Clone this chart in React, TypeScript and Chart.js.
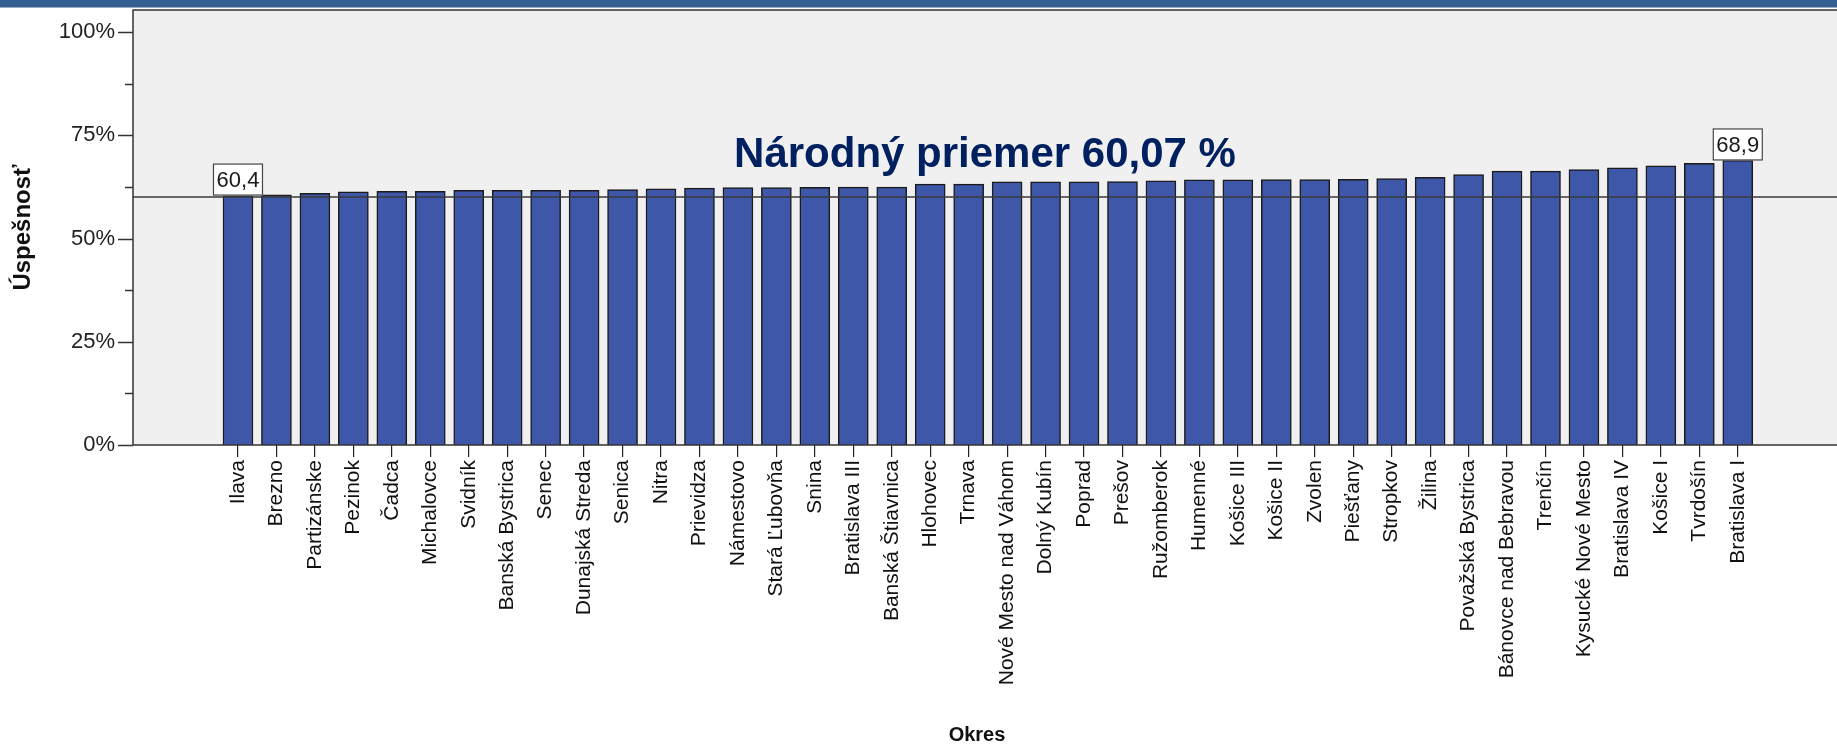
import React, { useEffect, useRef } from 'react';
import { Chart, registerables } from 'chart.js';

Chart.register(...registerables);

const districts = [
  'Ilava', 'Brezno', 'Partizánske', 'Pezinok', 'Čadca', 'Michalovce', 'Svidník',
  'Banská Bystrica', 'Senec', 'Dunajská Streda', 'Senica', 'Nitra', 'Prievidza',
  'Námestovo', 'Stará Ľubovňa', 'Snina', 'Bratislava III', 'Banská Štiavnica',
  'Hlohovec', 'Trnava', 'Nové Mesto nad Váhom', 'Dolný Kubín', 'Poprad', 'Prešov',
  'Ružomberok', 'Humenné', 'Košice III', 'Košice II', 'Zvolen', 'Piešťany',
  'Stropkov', 'Žilina', 'Považská Bystrica', 'Bánovce nad Bebravou', 'Trenčín',
  'Kysucké Nové Mesto', 'Bratislava IV', 'Košice I', 'Tvrdošín', 'Bratislava I',
];

const successRates = [
  60.4, 60.6, 60.95, 61.3, 61.45, 61.45, 61.65,
  61.65, 61.65, 61.65, 61.85, 62.0, 62.2,
  62.35, 62.35, 62.4, 62.45, 62.45,
  63.15, 63.15, 63.7, 63.7, 63.75, 63.8,
  63.95, 64.2, 64.2, 64.25, 64.25, 64.3,
  64.5, 64.8, 65.5, 66.3, 66.3,
  66.7, 67.1, 67.6, 68.2, 68.9,
];

const yMajorTicks = [0, 25, 50, 75, 100];
const yMinorTicks = [12.5, 37.5, 62.5, 87.5];
const nationalMean = 60.07;
const meanLabel = 'Národný priemer 60,07 %';
const yAxisTitle = 'Úspešnosť';
const xAxisTitle = 'Okres';

const FONT = "'Liberation Sans', Arial, sans-serif";
const BAR_COLOR = '#3e57a9';
const BAR_BORDER = '#1b1b1b';
const PANEL = '#f0f0f0';
const AXIS = '#333333';

const fmt = (v: number) => v.toFixed(1).replace('.', ',');

const decorPlugin = {
  id: 'decor',
  beforeDraw(chart: any) {
    const { ctx, chartArea: a, width, height } = chart;
    ctx.save();
    ctx.fillStyle = '#ffffff';
    ctx.fillRect(0, 0, width, height);
    ctx.fillStyle = '#365f91';
    ctx.fillRect(0, 0, width, 7.5);
    ctx.fillStyle = PANEL;
    ctx.fillRect(a.left, a.top, width - a.left, a.bottom - a.top);
    ctx.restore();
  },
  afterDatasetsDraw(chart: any) {
    const { ctx, chartArea: a, width } = chart;
    const yScale = chart.scales.y;
    ctx.save();
    const my = yScale.getPixelForValue(nationalMean);
    ctx.strokeStyle = '#3a3a3a';
    ctx.lineWidth = 1.5;
    ctx.beginPath();
    ctx.moveTo(a.left, my);
    ctx.lineTo(width, my);
    ctx.stroke();

    ctx.strokeStyle = AXIS;
    ctx.lineWidth = 1.5;
    ctx.beginPath();
    ctx.moveTo(width, a.top);
    ctx.lineTo(a.left, a.top);
    ctx.lineTo(a.left, a.bottom);
    ctx.lineTo(width, a.bottom);
    ctx.stroke();

    ctx.beginPath();
    yMajorTicks.forEach((v) => {
      const y = Math.round(yScale.getPixelForValue(v)) + 0.5;
      ctx.moveTo(a.left - 15, y);
      ctx.lineTo(a.left, y);
    });
    yMinorTicks.forEach((v) => {
      const y = Math.round(yScale.getPixelForValue(v)) + 0.5;
      ctx.moveTo(a.left - 8, y);
      ctx.lineTo(a.left, y);
    });
    ctx.stroke();

    const meta = chart.getDatasetMeta(0);
    const minIdx = successRates.indexOf(Math.min(...successRates));
    const maxIdx = successRates.indexOf(Math.max(...successRates));
    ctx.font = `22px ${FONT}`;
    ctx.textAlign = 'center';
    ctx.textBaseline = 'middle';
    [minIdx, maxIdx].forEach((i) => {
      const bar = meta.data[i];
      const txt = fmt(successRates[i]);
      const w = 50;
      const h = 32;
      const x0 = bar.x - w / 2;
      const y0 = bar.y - h;
      ctx.fillStyle = '#ffffff';
      ctx.fillRect(x0, y0, w, h);
      ctx.strokeStyle = '#444';
      ctx.lineWidth = 1.2;
      ctx.strokeRect(x0 + 0.5, y0 + 0.5, w - 1, h - 1);
      ctx.fillStyle = '#1a1a1a';
      ctx.fillText(txt, bar.x, y0 + h / 2 + 1);
    });

    ctx.font = `bold 42px ${FONT}`;
    ctx.fillStyle = '#002060';
    ctx.textAlign = 'center';
    ctx.textBaseline = 'alphabetic';
    ctx.fillText(meanLabel, (a.left + width) / 2, 167);

    ctx.font = `bold 20px ${FONT}`;
    ctx.fillStyle = '#111';
    ctx.textAlign = 'center';
    ctx.textBaseline = 'middle';
    ctx.fillText(xAxisTitle, (a.left + width) / 2 - 8, 735);
    ctx.restore();
  },
};

export default function App() {
  const ref = useRef<HTMLCanvasElement | null>(null);

  useEffect(() => {
    if (!ref.current) return;
    const chart = new Chart(ref.current, {
      type: 'bar',
      data: {
        datasets: [
          {
            data: successRates.map((v, i) => ({ x: i, y: v })),
            backgroundColor: BAR_COLOR,
            borderColor: BAR_BORDER,
            borderWidth: 1.5,
            barThickness: 30,
          },
        ],
      },
      options: {
        animation: false,
        responsive: false,
        devicePixelRatio: 1,
        layout: { padding: { top: 10, left: 0, right: 0, bottom: 0 } },
        plugins: {
          legend: { display: false },
          tooltip: { enabled: false },
        },
        scales: {
          x: {
            type: 'linear',
            offset: false,
            bounds: 'data',
            min: -2.73,
            max: 41.58,
            afterBuildTicks: (s: any) => {
              s.ticks = districts.map((_, i) => ({ value: i }));
            },
            afterFit: (s: any) => {
              s.height = 302;
              s.paddingLeft = 0;
              s.paddingRight = 0;
              s.paddingTop = 0;
              s.paddingBottom = 0;
            },
            ticks: {
              autoSkip: false,
              maxRotation: 90,
              minRotation: 90,
              padding: 3,
              color: '#111',
              font: { family: FONT, size: 21 },
              callback: (v: any) => districts[Math.round(Number(v))] ?? '',
            },
            grid: {
              display: true,
              offset: false,
              drawOnChartArea: false,
              drawTicks: true,
              tickLength: 12,
              color: '#222',
              lineWidth: 1.2,
            },
            border: { display: false },
            title: { display: false },
          },
          y: {
            min: 0,
            max: 105.33,
            afterBuildTicks: (s: any) => {
              s.ticks = yMajorTicks.map((v) => ({ value: v }));
            },
            afterFit: (s: any) => {
              s.width = 133;
              s.paddingLeft = 0;
              s.paddingRight = 0;
              s.paddingTop = 0;
              s.paddingBottom = 0;
            },
            ticks: {
              padding: 18,
              color: '#222',
              font: { family: FONT, size: 22 },
              callback: (v: any) => `${v}%`,
            },
            grid: { display: false, drawTicks: false },
            border: { display: false },
            title: {
              display: true,
              text: yAxisTitle,
              color: '#111',
              font: { family: FONT, size: 24, weight: 'bold' },
              padding: { top: 9, bottom: 0 },
            },
          },
        },
      },
      plugins: [decorPlugin],
    } as any);
    return () => chart.destroy();
  }, []);

  return (
    <div style={{ position: 'fixed', left: 0, top: 0, width: 1837, height: 747 }}>
      <canvas ref={ref} width={1837} height={747} style={{ width: 1837, height: 747, display: 'block' }} />
    </div>
  );
}
